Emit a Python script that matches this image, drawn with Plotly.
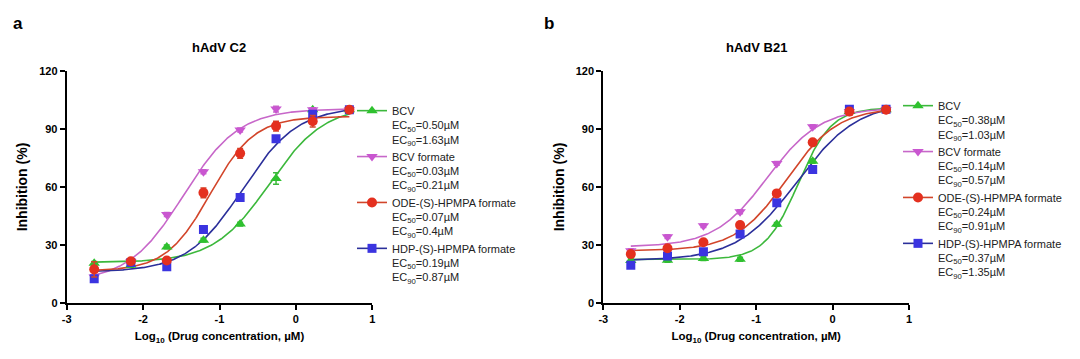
import numpy as np
import plotly.graph_objects as go

# ---------------- data ----------------
log_conc = [-2.64, -2.16, -1.69, -1.21, -0.73, -0.26, 0.22, 0.70]

series_names = ["BCV", "BCV formate", "ODE-(S)-HPMPA formate", "HDP-(S)-HPMPA formate"]

# Panel a: hAdV C2 (mean inhibition %, error)
c2_bcv = [20.5, 19.5, 29.0, 32.5, 40.8, 64.4, 100.0, 100.0]
c2_bcv_err = [1.0, 1.0, 1.0, 1.0, 1.0, 3.0, 1.0, 1.0]
c2_bcvf = [13.5, 21.5, 45.8, 67.9, 89.5, 100.3, 100.0, 100.0]
c2_bcvf_err = [1.0, 1.0, 1.0, 1.0, 1.0, 1.5, 1.0, 1.0]
c2_ode = [17.4, 21.6, 22.0, 57.0, 77.4, 91.5, 94.0, 100.0]
c2_ode_err = [4.0, 1.0, 1.0, 2.5, 2.5, 2.5, 3.0, 1.0]
c2_hdp = [12.6, 21.0, 18.7, 38.0, 54.6, 85.0, 97.6, 100.0]
c2_hdp_err = [1.0, 1.0, 1.0, 1.0, 1.0, 1.5, 1.0, 1.0]

# Panel b: hAdV B21
b21_bcv = [22.0, 22.1, 23.0, 22.6, 40.7, 73.3, 99.0, 100.0]
b21_bcv_err = [1.0, 1.0, 1.0, 1.0, 1.0, 1.0, 1.0, 1.0]
b21_bcvf = [27.0, 34.3, 40.0, 47.2, 72.2, 91.2, 99.0, 100.0]
b21_bcvf_err = [1.0, 1.0, 1.0, 1.0, 1.0, 1.0, 1.0, 1.0]
b21_ode = [25.3, 28.3, 31.4, 40.3, 56.7, 83.1, 99.0, 100.0]
b21_ode_err = [1.0, 1.0, 1.0, 1.0, 1.0, 1.0, 1.0, 1.0]
b21_hdp = [19.5, 24.3, 26.5, 35.7, 51.9, 69.1, 100.2, 100.2]
b21_hdp_err = [1.0, 1.0, 1.0, 1.0, 1.0, 1.0, 1.0, 1.0]

# fitted 4PL curve parameters (bottom, top, logEC50, hill)
c2_fit_bottom = [21.0, 11.0, 16.5, 16.0]
c2_fit_top = [102.0, 100.5, 96.5, 101.5]
c2_fit_logec = [-0.35, -1.47, -1.12, -0.70]
c2_fit_hill = [1.2, 1.2, 1.5, 1.2]

b21_fit_bottom = [22.5, 29.0, 27.0, 22.0]
b21_fit_top = [101.0, 101.0, 101.0, 104.0]
b21_fit_logec = [-0.45, -0.85, -0.60, -0.46]
b21_fit_hill = [2.0, 1.25, 1.3, 1.1]

c2_legend = [
    "BCV<br>EC<sub>50</sub>=0.50µM<br>EC<sub>90</sub>=1.63µM",
    "BCV formate<br>EC<sub>50</sub>=0.03µM<br>EC<sub>90</sub>=0.21µM",
    "ODE-(S)-HPMPA formate<br>EC<sub>50</sub>=0.07µM<br>EC<sub>90</sub>=0.4µM",
    "HDP-(S)-HPMPA formate<br>EC<sub>50</sub>=0.19µM<br>EC<sub>90</sub>=0.87µM",
]
b21_legend = [
    "BCV<br>EC<sub>50</sub>=0.38µM<br>EC<sub>90</sub>=1.03µM",
    "BCV formate<br>EC<sub>50</sub>=0.14µM<br>EC<sub>90</sub>=0.57µM",
    "ODE-(S)-HPMPA formate<br>EC<sub>50</sub>=0.24µM<br>EC<sub>90</sub>=0.91µM",
    "HDP-(S)-HPMPA formate<br>EC<sub>50</sub>=0.37µM<br>EC<sub>90</sub>=1.35µM",
]

# ---------------- styles ----------------
marker_colors = ["#2fc12f", "#c956d0", "#e4301f", "#3b34e0"]
line_colors = ["#3cb83c", "#c767c9", "#d2452a", "#2b2f9a"]
symbols = ["triangle-up", "triangle-down", "circle", "square"]
sizes = [10, 10, 10, 9]
FONT = "Liberation Sans, Arial, sans-serif"

fig = go.Figure()

panels = [
    dict(xa="x", ya="y", leg="legend",
         vals=[c2_bcv, c2_bcvf, c2_ode, c2_hdp],
         errs=[c2_bcv_err, c2_bcvf_err, c2_ode_err, c2_hdp_err],
         fb=c2_fit_bottom, ft=c2_fit_top, fc=c2_fit_logec, fh=c2_fit_hill,
         labels=c2_legend),
    dict(xa="x2", ya="y2", leg="legend2",
         vals=[b21_bcv, b21_bcvf, b21_ode, b21_hdp],
         errs=[b21_bcv_err, b21_bcvf_err, b21_ode_err, b21_hdp_err],
         fb=b21_fit_bottom, ft=b21_fit_top, fc=b21_fit_logec, fh=b21_fit_hill,
         labels=b21_legend),
]

xfit = np.linspace(min(log_conc), max(log_conc), 300)
draw_order = [0, 1, 3, 2]
for p in panels:
    # fitted curves
    for i in draw_order:
        yfit = p["fb"][i] + (p["ft"][i] - p["fb"][i]) / (1 + 10 ** ((p["fc"][i] - xfit) * p["fh"][i]))
        fig.add_trace(go.Scatter(x=xfit, y=yfit, mode="lines", xaxis=p["xa"], yaxis=p["ya"],
                                 line=dict(color=line_colors[i], width=1.6),
                                 showlegend=False, hoverinfo="skip"))
    # data points
    for i in draw_order:
        fig.add_trace(go.Scatter(x=log_conc, y=p["vals"][i], mode="markers", xaxis=p["xa"], yaxis=p["ya"],
                                 marker=dict(symbol=symbols[i], size=sizes[i], color=marker_colors[i],
                                             line=dict(width=0)),
                                 error_y=dict(type="data", array=p["errs"][i], color=line_colors[i],
                                              thickness=1.5, width=3),
                                 showlegend=False))
    # legend entries
    for i in range(4):
        fig.add_trace(go.Scatter(x=[None], y=[None], mode="lines+markers", xaxis=p["xa"], yaxis=p["ya"],
                                 name=p["labels"][i], legend=p["leg"],
                                 marker=dict(symbol=symbols[i], size=sizes[i], color=marker_colors[i]),
                                 line=dict(color=line_colors[i], width=1.6)))

W, H = 1080, 359
y_dom = [1 - 303 / H, 1 - 71 / H]
x1_dom = [66.7 / W, 372.3 / W]
x2_dom = [603.3 / W, 909.0 / W]

axis_common = dict(showline=True, linecolor="black", linewidth=2, ticks="outside", ticklen=5,
                   tickwidth=2, tickcolor="black", showgrid=False, zeroline=False, automargin=False,
                   tickfont=dict(family=FONT, size=11, color="black", weight="bold"))

xaxis_common = dict(axis_common, range=[-3, 1], tickvals=[-3, -2, -1, 0, 1],
                    ticktext=["-3", "-2", "-1", "0", "1"],
                    title=dict(text="Log<sub>10</sub> (Drug concentration, µM)", standoff=8,
                               font=dict(family=FONT, size=11.5, color="black", weight="bold")))
yaxis_common = dict(axis_common, range=[0, 120], tickvals=[0, 30, 60, 90, 120],
                    title=dict(text="Inhibition (%)", standoff=8,
                               font=dict(family=FONT, size=14, color="black", weight="bold")))

legend_common = dict(font=dict(family=FONT, size=11, color="#222222"), bgcolor="rgba(0,0,0,0)",
                     valign="top", xanchor="left", yanchor="top", tracegroupgap=0, itemwidth=30)

def label(text, x, y, size):
    return dict(text=text, x=x, y=y, xref="paper", yref="paper", xanchor="center", yanchor="middle",
                showarrow=False, font=dict(family=FONT, size=size, color="black"))

fig.update_layout(
    width=W, height=H,
    margin=dict(l=0, r=0, t=0, b=0, autoexpand=False),
    paper_bgcolor="white", plot_bgcolor="white",
    xaxis=dict(xaxis_common, domain=x1_dom, anchor="y"),
    yaxis=dict(yaxis_common, domain=y_dom, anchor="x"),
    xaxis2=dict(xaxis_common, domain=x2_dom, anchor="y2"),
    yaxis2=dict(yaxis_common, domain=y_dom, anchor="x2"),
    legend=dict(legend_common, x=352 / W, y=1 - 97 / H),
    legend2=dict(legend_common, x=898 / W, y=1 - 92 / H),
    annotations=[
        label("<b>hAdV C2</b>", sum(x1_dom) / 2, 1 - 47 / H, 13),
        label("<b>hAdV B21</b>", sum(x2_dom) / 2, 1 - 47 / H, 13),
        label("<b>a</b>", 18 / W, 1 - 23 / H, 17),
        label("<b>b</b>", 549 / W, 1 - 23 / H, 17),
    ],
)

fig.write_html("out.html", config={"displayModeBar": False},
               post_script="document.body.style.margin='0px';document.body.style.overflow='hidden';")
